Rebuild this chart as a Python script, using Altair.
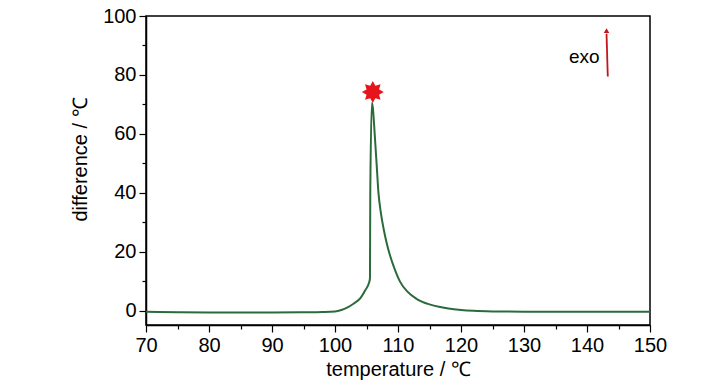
import altair as alt
import pandas as pd
import numpy as np

# curve data
temps = [70, 72, 75, 80, 85, 90, 95, 98, 100, 101, 102, 103, 104, 104.8, 105.4, 105.55,
         105.6, 105.85, 106.0, 106.15, 106.3, 106.6, 106.9, 107.3, 107.7, 108.2, 108.7,
         109.5, 110.3, 111.5, 113, 115, 116.7, 118, 120, 122, 125, 130, 140, 150]
diffs = [-0.3, -0.4, -0.5, -0.6, -0.6, -0.6, -0.5, -0.4, -0.2, 0.3, 1.2, 2.5, 4.2, 7.0, 9.5, 11.0,
         40.0, 70.5, 69.0, 65.0, 60.0, 50.0, 40.0, 33.0, 28.0, 23.0, 19.0,
         14.0, 10.0, 6.5, 4.0, 2.2, 1.3, 0.8, 0.3, 0.0, -0.2, -0.3, -0.3, -0.3]

x_major = [70, 80, 90, 100, 110, 120, 130, 140, 150]
x_minor = [75, 85, 95, 105, 115, 125, 135, 145]
y_major = [0, 20, 40, 60, 80, 100]
y_minor = [10, 30, 50, 70, 90]

star_pos = [106.0, 74.2]
exo_pos = [142.0, 86.0]
arrow_x = [143.3, 143.1]
arrow_y = [79.5, 94.0]

FONT = "Liberation Sans"
GREEN = "#2b6b3b"
RED = "#e8141b"

df = pd.DataFrame({"t": temps, "d": diffs})

xs = alt.Scale(domain=[70, 150], nice=False, zero=False)
ys = alt.Scale(domain=[-4.8, 100], nice=False, zero=False)

common = dict(grid=False, tickColor="black", domainColor="black", domainWidth=1.5,
              tickWidth=1.2, labelFontSize=20, titleFontSize=20, labelFont=FONT,
              titleFont=FONT, labelColor="black", titleColor="black",
              titleFontWeight="normal", labelOverlap=False, labelBound=False,
              labelFlush=False)
xax = alt.Axis(values=x_major, title="temperature / ℃", tickSize=7,
               labelPadding=3, titlePadding=4, **common)
yax = alt.Axis(values=y_major, title="difference / ℃", tickSize=7,
               labelPadding=3, titlePadding=12, titleY=143, **common)

line = alt.Chart(df).mark_line(color=GREEN, strokeWidth=2, interpolate="monotone").encode(
    x=alt.X("t:Q", scale=xs, axis=xax),
    y=alt.Y("d:Q", scale=ys, axis=yax),
)

minor = alt.Chart(pd.DataFrame({"t": [70], "d": [0]})).mark_point(opacity=0).encode(
    x=alt.X("t:Q", scale=xs, axis=alt.Axis(values=x_minor, labels=False, title=None, grid=False,
            tickSize=4, tickColor="black", domain=False, orient="bottom", tickWidth=1.2)),
    y=alt.Y("d:Q", scale=ys, axis=alt.Axis(values=y_minor, labels=False, title=None, grid=False,
            tickSize=4, tickColor="black", domain=False, orient="left", tickWidth=1.2)),
)

# 8-pointed star path
n = 8
pts = []
for i in range(2 * n):
    r = 1.0 if i % 2 == 0 else 0.62
    a = np.pi * i / n - np.pi / 2
    pts.append(f"{r*np.cos(a):.3f},{r*np.sin(a):.3f}")
star_path = "M" + "L".join(pts) + "Z"

star = alt.Chart(pd.DataFrame({"t": [star_pos[0]], "d": [star_pos[1]]})).mark_point(
    shape=star_path, filled=True, color=RED, size=480, opacity=1, strokeWidth=0
).encode(x=alt.X("t:Q", scale=xs, axis=None), y=alt.Y("d:Q", scale=ys, axis=None))

exo = alt.Chart(pd.DataFrame({"t": [exo_pos[0]], "d": [exo_pos[1]], "s": ["exo"]})).mark_text(
    font=FONT, fontSize=19, align="right", baseline="middle", color="black"
).encode(x=alt.X("t:Q", scale=xs, axis=None), y=alt.Y("d:Q", scale=ys, axis=None), text="s:N")

arrow = alt.Chart(pd.DataFrame({"t": [arrow_x[0]], "t2": [arrow_x[1]],
                                "d": [arrow_y[0]], "d2": [arrow_y[1]]})).mark_rule(
    color="#c0161c", strokeWidth=1.8
).encode(x=alt.X("t:Q", scale=xs, axis=None), x2="t2:Q",
         y=alt.Y("d:Q", scale=ys, axis=None), y2="d2:Q")

head = alt.Chart(pd.DataFrame({"t": [arrow_x[1]], "d": [arrow_y[1] + 1.0]})).mark_point(
    shape="triangle-up", filled=True, color="#c0161c", size=30, opacity=1
).encode(x=alt.X("t:Q", scale=xs, axis=None), y=alt.Y("d:Q", scale=ys, axis=None))

chart = alt.layer(line, minor, star, exo, arrow, head).resolve_axis(
    x="independent", y="independent"
).properties(
    width=504, height=309,
    autosize=alt.AutoSizeParams(type="none"),
    padding={"left": 138, "top": 8, "right": 60, "bottom": 60},
).configure_view(stroke="black", strokeWidth=1.5)

chart.save("out.html", embed_options={"renderer": "svg", "actions": False})
